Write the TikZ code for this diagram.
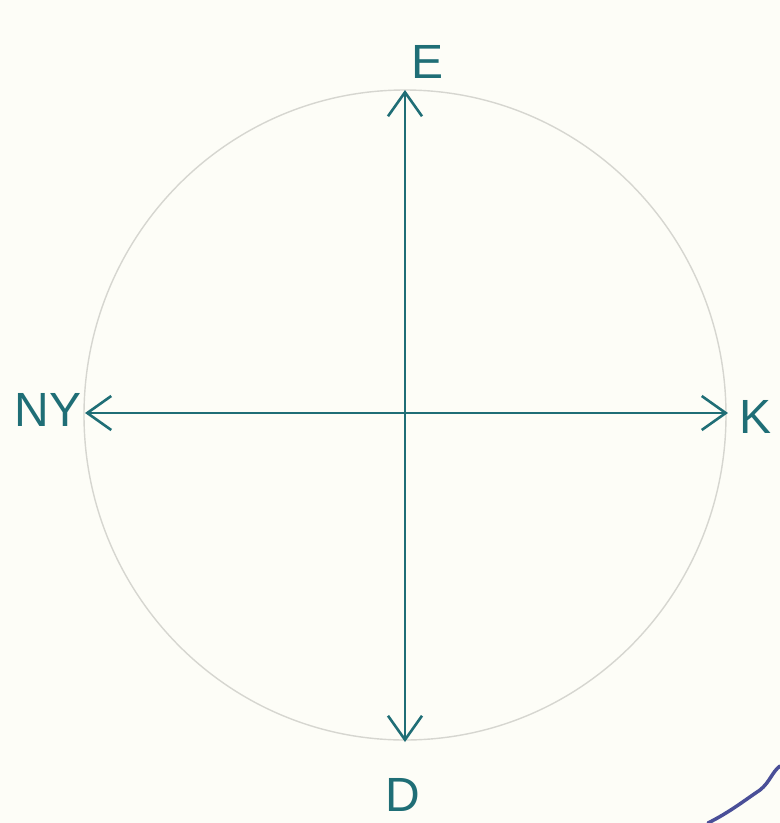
\documentclass[tikz,border=0pt]{standalone}
\usepackage{fontspec}
\setmainfont{Liberation Sans}
\usetikzlibrary{arrows.meta}
\definecolor{ink}{HTML}{1F6E76}
\definecolor{paper}{HTML}{FDFDF7}
\definecolor{pencil}{HTML}{D6D6D0}
\definecolor{squig}{HTML}{4A4F98}
\tikzset{
  tip/.tip={Straight Barb[length=24pt,width=34pt,line width=2.6pt]},
  axis/.style={draw=ink, line width=2.6pt, tip-tip},
  lbl/.style={text=ink, font=\fontsize{48}{50}\selectfont, inner sep=0pt}
}
\begin{document}
\begin{tikzpicture}[x=1pt,y=1pt]
\fill[paper] (0,0) rectangle (780,-823);
\useasboundingbox (0,0) rectangle (780,-823);
\draw[pencil, line width=1.4pt] (405,-415) ellipse [x radius=321, y radius=325];
\coordinate (top) at (405,-90);
\coordinate (bot) at (405,-742);
\coordinate (lft) at (85,-413);
\coordinate (rgt) at (728,-413);
\draw[axis] (bot) -- (top);
\draw[axis] (lft) -- (rgt);
\node[lbl] (E) at (428,-62) {E};
\node[lbl] (NY) at (48,-410) {NY};
\node[lbl] (K) at (756,-417) {K};
\node[lbl] (D) at (403,-795) {D};
\draw[squig, line width=3.5pt, line cap=round] (708,-823) .. controls (730,-812) and (745,-800) .. (760,-790) .. controls (770,-782) and (772,-772) .. (780,-766);
\end{tikzpicture}
\end{document}
